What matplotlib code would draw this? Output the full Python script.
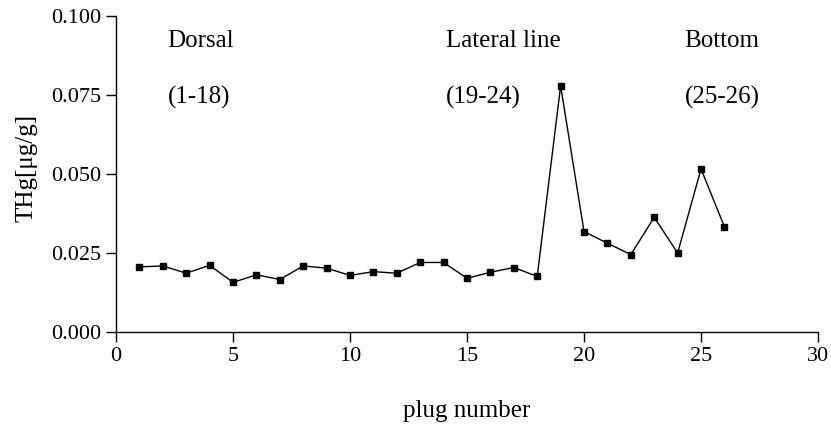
import numpy as np
import matplotlib.pyplot as plt
from matplotlib.ticker import MultipleLocator, FormatStrFormatter

# plug numbers and total mercury readings
plug = np.arange(1, 27)
thg = [0.0206, 0.0209, 0.0186, 0.0211, 0.0157, 0.0181, 0.0166, 0.0209, 0.0202,
       0.0179, 0.0191, 0.0186, 0.0220, 0.0220, 0.0170, 0.0189, 0.0204, 0.0176,
       0.0779, 0.0318, 0.0281, 0.0245, 0.0363, 0.0250, 0.0516, 0.0333]

regions = ["Dorsal", "Lateral line", "Bottom"]
ranges = ["(1-18)", "(19-24)", "(25-26)"]
region_x = [2.2, 14.1, 24.3]

plt.rcParams['font.family'] = ['Liberation Serif', 'DejaVu Serif']

fig = plt.figure(figsize=(8.31, 4.26), dpi=100)
ax = fig.add_axes([0.1396, 0.2207, 0.8448, 0.7417])

ax.plot(plug, thg, color='black', lw=1.0, marker='s', markersize=5)

for name, rng, x in zip(regions, ranges, region_x):
    ax.text(x, 0.0921, name, fontsize=18, ha='left', va='center')
    ax.text(x, 0.0742, rng, fontsize=18, ha='left', va='center')

ax.set_xlim(0, 30)
ax.set_ylim(0, 0.1)
ax.xaxis.set_major_locator(MultipleLocator(5))
ax.yaxis.set_major_locator(MultipleLocator(0.025))
ax.yaxis.set_major_formatter(FormatStrFormatter('%.3f'))
ax.tick_params(direction='out', length=7, width=1, labelsize=16, pad=3.5)
for side in ['top', 'right']:
    ax.spines[side].set_visible(False)
for side in ['left', 'bottom']:
    ax.spines[side].set_linewidth(1)

ax.set_xlabel('plug number', fontsize=18)
ax.set_ylabel('THg[μg/g]', fontsize=18)
ax.xaxis.set_label_coords(0.5, -0.215)
ax.yaxis.set_label_coords(-0.112, 0.52)

fig.savefig('out.png', dpi=100)
